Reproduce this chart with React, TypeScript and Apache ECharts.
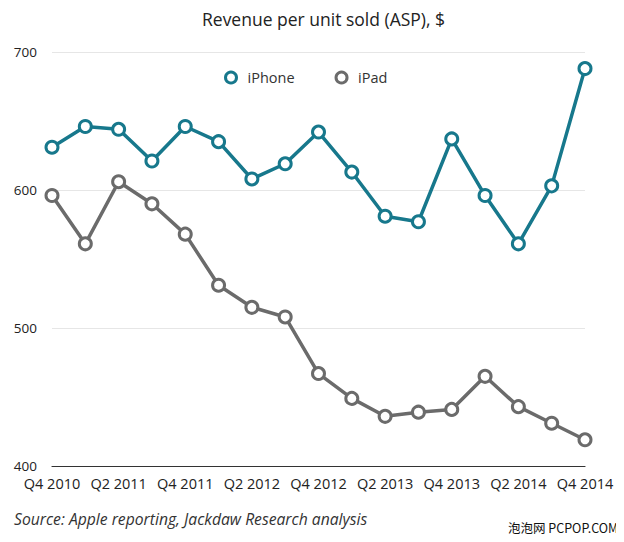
import React, { useEffect, useRef } from "react";
import * as echarts from "echarts";

const categories = [
  "Q4 2010", "Q1 2011", "Q2 2011", "Q3 2011", "Q4 2011", "Q1 2012", "Q2 2012", "Q3 2012",
  "Q4 2012", "Q1 2013", "Q2 2013", "Q3 2013", "Q4 2013", "Q1 2014", "Q2 2014", "Q3 2014", "Q4 2014",
];
const iphone = [631, 646, 644, 621, 646, 635, 608, 619, 642, 613, 581, 577, 637, 596, 561, 603, 688];
const ipad = [596, 561, 606, 590, 568, 531, 515, 508, 467, 449, 436, 439, 441, 465, 443, 431, 419];
const yTicks = { min: 400, max: 700, interval: 100 };

const TEAL = "#17788c";
const GRAY = "#6b6b6b";
const FONT = "'Open Sans', 'Noto Sans', sans-serif";

export default function App() {
  const ref = useRef<HTMLDivElement>(null);
  useEffect(() => {
    const chart = echarts.init(ref.current!, null, { renderer: "svg" });
    const mkSeries = (name: string, data: number[], color: string) => ({
      name,
      type: "line",
      data,
      symbol: "circle",
      symbolSize: 12,
      showSymbol: true,
      color,
      lineStyle: { color, width: 3.5 },
      itemStyle: { color: "#fff", borderColor: color, borderWidth: 3 },
      emphasis: { disabled: true },
    });
    chart.setOption({
      animation: false,
      textStyle: { fontFamily: FONT },
      title: {
        text: "Revenue per unit sold (ASP), $",
        left: 197,
        top: 5,
        textStyle: { fontFamily: FONT, fontSize: 17.5, fontWeight: "normal", color: "#222" },
      },
      legend: {
        left: 219,
        top: 65,
        icon: "circle",
        itemWidth: 11,
        itemHeight: 11,
        itemGap: 40,
        textStyle: { fontFamily: FONT, fontSize: 14.5, color: "#333", padding: [0, 0, 0, 6] },
        data: [
          { name: "iPhone", itemStyle: { color: "#fff", borderColor: TEAL, borderWidth: 3 } },
          { name: "iPad", itemStyle: { color: "#fff", borderColor: GRAY, borderWidth: 3 } },
        ],
      },
      grid: { left: 52, right: 39, top: 52, bottom: 76, containLabel: false },
      xAxis: {
        type: "category",
        data: categories,
        boundaryGap: false,
        axisLine: { lineStyle: { color: "#333", width: 1.2 } },
        axisTick: { show: false },
        axisLabel: { interval: 1, color: "#222", fontSize: 14.5, fontFamily: FONT, margin: 10 },
        splitLine: { show: false },
      },
      yAxis: {
        type: "value",
        min: yTicks.min,
        max: yTicks.max,
        interval: yTicks.interval,
        axisLine: { show: false },
        axisTick: { show: false },
        axisLabel: { color: "#222", fontSize: 13.5, fontFamily: FONT, margin: 15 },
        splitLine: { lineStyle: { color: "#e6e6e6", width: 1 } },
      },
      graphic: [
        {
          type: "text",
          left: 14,
          top: 511,
          style: {
            text: "Source: Apple reporting, Jackdaw Research analysis",
            font: `italic 15.7px ${FONT}`,
            fill: "#333",
          },
        },
        {
          type: "text",
          left: 508,
          top: 521,
          style: {
            text: "泡泡网 PCPOP.COM",
            font: "12.5px 'Noto Sans CJK SC', sans-serif",
            fill: "#111",
          },
        },
      ],
      series: [mkSeries("iPhone", iphone, TEAL), mkSeries("iPad", ipad, GRAY)],
    });
    return () => chart.dispose();
  }, []);
  return <div ref={ref} style={{ width: 624, height: 542, margin: -8 }} />;
}
